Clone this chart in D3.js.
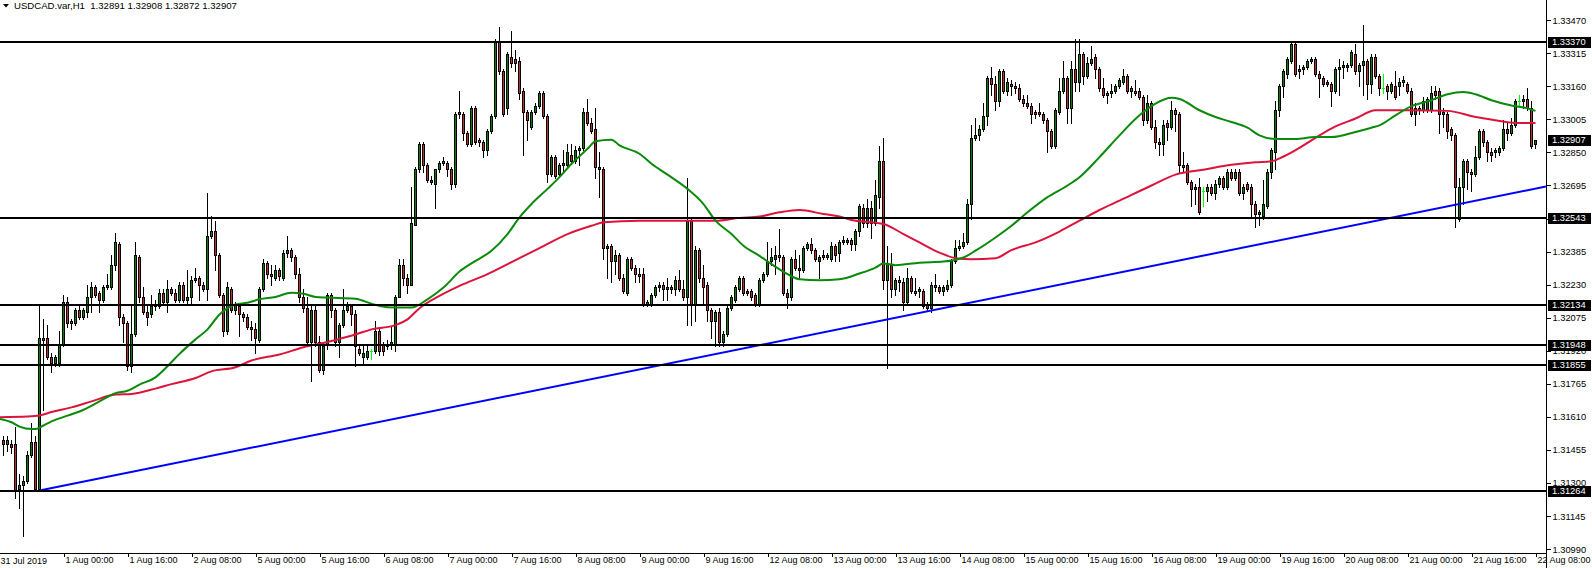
<!DOCTYPE html>
<html><head><meta charset="utf-8">
<script src="https://cdn.jsdelivr.net/npm/d3@7"></script>
<style>
body{margin:0;background:#fff;}
svg{display:block;font-family:"Liberation Sans",Arial,sans-serif;}
</style>
</head><body>
<svg id="chart" width="1592" height="568"></svg>
<script>
// ---------- DATA (USDCAD H1) ----------
const symbolTitle = "USDCAD.var,H1  1.32891 1.32908 1.32872 1.32907";
const opens = [
1.3150,1.3148,1.3148,1.3148,1.3127,1.3129,1.3131,1.3143,1.3149,1.3127,
1.3198,1.3198,1.3189,1.3186,1.3186,1.3195,1.3215,1.3206,1.3205,1.3211,
1.3208,1.3210,1.3217,1.3222,1.3219,1.3216,1.3222,1.3222,1.3232,1.3242,
1.3208,1.3205,1.3185,1.3200,1.3236,1.3217,1.3210,1.3209,1.3213,1.3213,
1.3219,1.3215,1.3221,1.3219,1.3216,1.3223,1.3216,1.3217,1.3225,1.3226,
1.3223,1.3221,1.3246,1.3248,1.3237,1.3218,1.3201,1.3221,1.3211,1.3213,
1.3209,1.3208,1.3203,1.3202,1.3197,1.3221,1.3233,1.3228,1.3226,1.3230,
1.3226,1.3238,1.3239,1.3236,1.3228,1.3217,1.3212,1.3196,1.3211,1.3196,
1.3183,1.3195,1.3218,1.3211,1.3196,1.3204,1.3211,1.3213,1.3209,1.3193,
1.3189,1.3189,1.3192,1.3192,1.3201,1.3195,1.3194,1.3195,1.3195,1.3217,
1.3232,1.3226,1.3223,1.3251,1.3277,1.3289,1.3279,1.3272,1.3270,1.3277,
1.3280,1.3280,1.3277,1.3270,1.3304,1.3303,1.3294,1.3289,1.3306,1.3291,
1.3290,1.3286,1.3295,1.3302,1.3337,1.3323,1.3306,1.3330,1.3329,1.3328,
1.3314,1.3304,1.3297,1.3304,1.3307,1.3313,1.3302,1.3275,1.3283,1.3275,
1.3279,1.3279,1.3284,1.3281,1.3286,1.3287,1.3304,1.3299,1.3296,1.3278,
1.3277,1.3240,1.3241,1.3234,1.3237,1.3226,1.3219,1.3235,1.3231,1.3228,
1.3228,1.3215,1.3214,1.3218,1.3222,1.3223,1.3221,1.3222,1.3221,1.3225,
1.3221,1.3217,1.3253,1.3214,1.3239,1.3226,1.3223,1.3211,1.3206,1.3210,
1.3196,1.3200,1.3212,1.3216,1.3221,1.3226,1.3220,1.3220,1.3218,1.3214,
1.3225,1.3228,1.3234,1.3235,1.3237,1.3236,1.3219,1.3217,1.3235,1.3231,
1.3230,1.3240,1.3242,1.3239,1.3234,1.3236,1.3237,1.3235,1.3241,1.3238,
1.3243,1.3243,1.3244,1.3242,1.3248,1.3259,1.3252,1.3259,1.3252,1.3264,
1.3281,1.3225,1.3232,1.3221,1.3225,1.3224,1.3215,1.3226,1.3220,1.3220,
1.3220,1.3214,1.3212,1.3223,1.3222,1.3220,1.3221,1.3223,1.3234,1.3240,
1.3241,1.3243,1.3261,1.3292,1.3293,1.3296,1.3302,1.3320,1.3317,1.3309,
1.3323,1.3314,1.3317,1.3316,1.3315,1.3310,1.3308,1.3307,1.3304,1.3304,
1.3303,1.3300,1.3295,1.3288,1.3304,1.3314,1.3320,1.3306,1.3324,1.3318,
1.3331,1.3321,1.3327,1.3330,1.3324,1.3315,1.3313,1.3313,1.3314,1.3316,
1.3318,1.3321,1.3315,1.3314,1.3314,1.3311,1.3300,1.3308,1.3297,1.3290,
1.3289,1.3299,1.3297,1.3305,1.3303,1.3279,1.3279,1.3271,1.3268,1.3269,
1.3267,1.3267,1.3269,1.3266,1.3270,1.3273,1.3269,1.3276,1.3273,1.3276,
1.3266,1.3270,1.3269,1.3261,1.3256,1.3255,1.3260,1.3276,1.3285,1.3305,
1.3316,1.3322,1.3328,1.3336,1.3324,1.3324,1.3325,1.3328,1.3329,1.3322,
1.3320,1.3318,1.3317,1.3314,1.3324,1.3325,1.3325,1.3326,1.3331,1.3323,
1.3326,1.3328,1.3317,1.3330,1.3321,1.3315,1.3316,1.3314,1.3316,1.3316,
1.3318,1.3317,1.3314,1.3303,1.3306,1.3305,1.3305,1.3305,1.3314,1.3314,
1.3304,1.3303,1.3296,1.3293,1.3254,1.3269,1.3281,1.3276,1.3275,1.3283,
1.3295,1.3290,1.3285,1.3285,1.3285,1.3287,1.3296,1.3294,1.3298,1.3309,
1.3310,1.3310,1.3306,1.32891];
const highs = [
1.3152,1.3152,1.3150,1.3156,1.3134,1.3133,1.3145,1.3158,1.3152,1.3214,
1.3207,1.3204,1.3191,1.3190,1.3201,1.3218,1.3217,1.3207,1.3212,1.3213,
1.3212,1.3223,1.3224,1.3223,1.3220,1.3223,1.3228,1.3237,1.3247,1.3243,
1.3209,1.3206,1.3214,1.3243,1.3237,1.3222,1.3213,1.3218,1.3216,1.3221,
1.3221,1.3225,1.3222,1.3221,1.3224,1.3224,1.3230,1.3227,1.3231,1.3227,
1.3224,1.3266,1.3255,1.3253,1.3238,1.3219,1.3224,1.3222,1.3215,1.3214,
1.3210,1.3209,1.3206,1.3205,1.3222,1.3235,1.3234,1.3232,1.3232,1.3231,
1.3239,1.3246,1.3240,1.3237,1.3231,1.3221,1.3217,1.3214,1.3213,1.3199,
1.3196,1.3219,1.3219,1.3212,1.3205,1.3221,1.3215,1.3214,1.3211,1.3194,
1.3194,1.3194,1.3193,1.3206,1.3203,1.3196,1.3197,1.3203,1.3218,1.3235,
1.3235,1.3228,1.3269,1.3278,1.3290,1.3290,1.3280,1.3274,1.3277,1.3281,
1.3283,1.3281,1.3278,1.3304,1.3314,1.3304,1.3295,1.3307,1.3307,1.3292,
1.3291,1.3296,1.3303,1.3338,1.3344,1.3324,1.3332,1.3342,1.3333,1.3330,
1.3315,1.3305,1.3305,1.3308,1.3314,1.3314,1.3303,1.3284,1.3284,1.3280,
1.3286,1.3289,1.3289,1.3288,1.3288,1.3306,1.3310,1.3301,1.3306,1.3285,
1.3278,1.3242,1.3242,1.3239,1.3238,1.3228,1.3236,1.3236,1.3232,1.3231,
1.3231,1.3216,1.3219,1.3223,1.3224,1.3224,1.3226,1.3223,1.3227,1.3230,
1.3225,1.3273,1.3254,1.3241,1.3240,1.3232,1.3224,1.3212,1.3211,1.3212,
1.3201,1.3214,1.3218,1.3223,1.3227,1.3227,1.3221,1.3221,1.3219,1.3226,
1.3229,1.3243,1.3240,1.3241,1.3249,1.3237,1.3221,1.3236,1.3239,1.3237,
1.3241,1.3243,1.3245,1.3240,1.3237,1.3239,1.3238,1.3243,1.3242,1.3244,
1.3246,1.3245,1.3245,1.3249,1.3261,1.3261,1.3263,1.3262,1.3272,1.3288,
1.3292,1.3241,1.3238,1.3226,1.3227,1.3226,1.3231,1.3227,1.3226,1.3222,
1.3221,1.3215,1.3224,1.3228,1.3223,1.3223,1.3225,1.3235,1.3244,1.3244,
1.3247,1.3263,1.3298,1.3301,1.3298,1.3308,1.3321,1.3325,1.3321,1.3324,
1.3324,1.3320,1.3319,1.3318,1.3317,1.3312,1.3312,1.3308,1.3305,1.3308,
1.3304,1.3301,1.3296,1.3306,1.3320,1.3328,1.3321,1.3328,1.3338,1.3338,
1.3332,1.3330,1.3335,1.3331,1.3325,1.3320,1.3314,1.3317,1.3317,1.3320,
1.3324,1.3322,1.3316,1.3319,1.3315,1.3312,1.3312,1.3309,1.3300,1.3292,
1.3300,1.3300,1.3309,1.3306,1.3304,1.3285,1.3280,1.3272,1.3270,1.3273,
1.3269,1.3270,1.3270,1.3272,1.3274,1.3274,1.3277,1.3277,1.3277,1.3277,
1.3270,1.3271,1.3270,1.3262,1.3258,1.3272,1.3277,1.3287,1.3309,1.3317,
1.3324,1.3330,1.3337,1.3337,1.3326,1.3326,1.3329,1.3330,1.3330,1.3323,
1.3321,1.3319,1.3318,1.3325,1.3329,1.3328,1.3327,1.3333,1.3336,1.3327,
1.3345,1.3329,1.3331,1.3331,1.3322,1.3322,1.3317,1.3318,1.3323,1.3320,
1.3321,1.3318,1.3315,1.3308,1.3307,1.3311,1.3311,1.3316,1.3316,1.3315,
1.3306,1.3304,1.3297,1.3294,1.3273,1.3282,1.3282,1.3277,1.3288,1.3296,
1.3296,1.3291,1.3287,1.3287,1.3288,1.3300,1.3299,1.3301,1.3310,1.3312,
1.3312,1.3315,1.3309,1.32908];
const lows = [
1.3143,1.3145,1.3144,1.3123,1.3118,1.3105,1.3130,1.3142,1.3126,1.3126,
1.3164,1.3188,1.3182,1.3185,1.3185,1.3194,1.3203,1.3202,1.3204,1.3207,
1.3207,1.3208,1.3210,1.3217,1.3210,1.3215,1.3221,1.3221,1.3230,1.3204,
1.3196,1.3183,1.3182,1.3199,1.3215,1.3209,1.3204,1.3208,1.3211,1.3212,
1.3214,1.3210,1.3218,1.3215,1.3215,1.3215,1.3214,1.3214,1.3224,1.3216,
1.3220,1.3216,1.3245,1.3230,1.3217,1.3199,1.3200,1.3210,1.3209,1.3199,
1.3206,1.3202,1.3197,1.3191,1.3196,1.3220,1.3226,1.3223,1.3225,1.3225,
1.3225,1.3236,1.3234,1.3226,1.3215,1.3210,1.3195,1.3178,1.3194,1.3182,
1.3181,1.3193,1.3208,1.3194,1.3189,1.3203,1.3210,1.3204,1.3185,1.3190,
1.3186,1.3188,1.3188,1.3191,1.3190,1.3190,1.3193,1.3193,1.3192,1.3217,
1.3223,1.3219,1.3223,1.3251,1.3276,1.3276,1.3271,1.3270,1.3259,1.3276,
1.3279,1.3274,1.3268,1.3269,1.3301,1.3291,1.3288,1.3288,1.3289,1.3288,
1.3283,1.3284,1.3294,1.3301,1.3322,1.3302,1.3303,1.3325,1.3323,1.3310,
1.3284,1.3291,1.3296,1.3303,1.3306,1.3301,1.3271,1.3274,1.3273,1.3274,
1.3276,1.3278,1.3280,1.3280,1.3279,1.3286,1.3298,1.3294,1.3273,1.3264,
1.3235,1.3226,1.3224,1.3228,1.3225,1.3219,1.3218,1.3230,1.3224,1.3224,
1.3213,1.3213,1.3213,1.3217,1.3220,1.3216,1.3216,1.3219,1.3218,1.3220,
1.3216,1.3204,1.3204,1.3206,1.3224,1.3214,1.3206,1.3198,1.3194,1.3194,
1.3194,1.3199,1.3211,1.3215,1.3220,1.3218,1.3218,1.3216,1.3213,1.3213,
1.3224,1.3227,1.3232,1.3228,1.3234,1.3218,1.3212,1.3216,1.3230,1.3226,
1.3229,1.3239,1.3238,1.3234,1.3226,1.3235,1.3235,1.3234,1.3234,1.3234,
1.3242,1.3242,1.3239,1.3239,1.3246,1.3250,1.3250,1.3245,1.3251,1.3259,
1.3221,1.3184,1.3217,1.3218,1.3220,1.3211,1.3214,1.3219,1.3218,1.3217,
1.3212,1.3211,1.3210,1.3220,1.3219,1.3218,1.3220,1.3222,1.3233,1.3239,
1.3240,1.3242,1.3254,1.3291,1.3291,1.3295,1.3298,1.3312,1.3305,1.3307,
1.3313,1.3312,1.3312,1.3313,1.3309,1.3307,1.3306,1.3299,1.3301,1.3302,
1.3299,1.3285,1.3287,1.3287,1.3303,1.3313,1.3299,1.3299,1.3314,1.3314,
1.3317,1.3320,1.3326,1.3320,1.3314,1.3311,1.3308,1.3311,1.3313,1.3315,
1.3317,1.3313,1.3311,1.3312,1.3310,1.3298,1.3299,1.3296,1.3287,1.3284,
1.3284,1.3291,1.3296,1.3295,1.3276,1.3276,1.3270,1.3260,1.3261,1.3256,
1.3260,1.3262,1.3265,1.3263,1.3269,1.3268,1.3268,1.3272,1.3272,1.3265,
1.3263,1.3267,1.3255,1.3250,1.3251,1.3254,1.3259,1.3273,1.3277,1.3302,
1.3311,1.3320,1.3327,1.3321,1.3320,1.3322,1.3324,1.3327,1.3321,1.3311,
1.3316,1.3316,1.3307,1.3313,1.3312,1.3320,1.3323,1.3325,1.3322,1.3316,
1.3312,1.3310,1.3313,1.3320,1.3312,1.3313,1.3310,1.3313,1.3310,1.3312,
1.3316,1.3313,1.3302,1.3298,1.3303,1.3304,1.3304,1.3304,1.3310,1.3294,
1.3297,1.3292,1.3291,1.3250,1.3253,1.3261,1.3268,1.3267,1.3274,1.3282,
1.3288,1.3281,1.3281,1.3283,1.3284,1.3286,1.3291,1.3293,1.3297,1.3307,
1.3306,1.3305,1.3287,1.32872];
const closes = [
1.3148,1.3150,1.3147,1.3126,1.3129,1.3131,1.3143,1.3149,1.3127,1.3198,
1.3197,1.3189,1.3186,1.3189,1.3195,1.3215,1.3205,1.3205,1.3211,1.3208,
1.3211,1.3217,1.3222,1.3218,1.3216,1.3222,1.3223,1.3232,1.3243,1.3208,
1.3205,1.3185,1.3200,1.3237,1.3217,1.3210,1.3208,1.3213,1.3214,1.3219,
1.3215,1.3221,1.3219,1.3216,1.3223,1.3216,1.3217,1.3225,1.3226,1.3223,
1.3221,1.3246,1.3248,1.3237,1.3218,1.3201,1.3222,1.3211,1.3214,1.3209,
1.3208,1.3203,1.3202,1.3198,1.3221,1.3233,1.3228,1.3227,1.3230,1.3227,
1.3238,1.3239,1.3236,1.3228,1.3217,1.3212,1.3196,1.3211,1.3196,1.3183,
1.3194,1.3218,1.3211,1.3196,1.3204,1.3211,1.3213,1.3209,1.3194,1.3191,
1.3191,1.3192,1.3192,1.3201,1.3192,1.3192,1.3195,1.3196,1.3217,1.3232,
1.3226,1.3223,1.3252,1.3277,1.3289,1.3279,1.3272,1.3271,1.3277,1.3280,
1.3281,1.3277,1.3270,1.3303,1.3303,1.3294,1.3289,1.3306,1.3290,1.3290,
1.3286,1.3295,1.3302,1.3337,1.3323,1.3303,1.3331,1.3327,1.3327,1.3313,
1.3304,1.3300,1.3304,1.3307,1.3313,1.3302,1.3275,1.3283,1.3274,1.3279,
1.3280,1.3285,1.3281,1.3286,1.3287,1.3304,1.3299,1.3295,1.3278,1.3277,
1.3240,1.3241,1.3234,1.3237,1.3226,1.3220,1.3235,1.3231,1.3228,1.3227,
1.3214,1.3214,1.3218,1.3222,1.3223,1.3221,1.3222,1.3221,1.3225,1.3221,
1.3217,1.3253,1.3214,1.3239,1.3226,1.3222,1.3211,1.3206,1.3210,1.3196,
1.3200,1.3212,1.3217,1.3222,1.3226,1.3219,1.3219,1.3217,1.3214,1.3225,
1.3228,1.3234,1.3236,1.3237,1.3236,1.3219,1.3217,1.3235,1.3231,1.3230,
1.3240,1.3242,1.3239,1.3235,1.3236,1.3237,1.3236,1.3241,1.3237,1.3243,
1.3244,1.3244,1.3242,1.3248,1.3260,1.3252,1.3259,1.3252,1.3265,1.3281,
1.3225,1.3233,1.3221,1.3225,1.3224,1.3215,1.3226,1.3220,1.3219,1.3221,
1.3213,1.3212,1.3223,1.3222,1.3220,1.3222,1.3223,1.3234,1.3240,1.3241,
1.3243,1.3261,1.3292,1.3293,1.3296,1.3302,1.3320,1.3317,1.3309,1.3323,
1.3314,1.3318,1.3316,1.3315,1.3310,1.3308,1.3307,1.3303,1.3303,1.3303,
1.3300,1.3295,1.3288,1.3305,1.3314,1.3320,1.3306,1.3324,1.3318,1.3331,
1.3321,1.3327,1.3329,1.3324,1.3315,1.3312,1.3312,1.3314,1.3316,1.3319,
1.3321,1.3314,1.3314,1.3313,1.3311,1.3300,1.3308,1.3297,1.3290,1.3289,
1.3298,1.3297,1.3305,1.3303,1.3279,1.3278,1.3271,1.3268,1.3269,1.3257,
1.3267,1.3269,1.3266,1.3270,1.3273,1.3269,1.3276,1.3273,1.3276,1.3266,
1.3269,1.3268,1.3261,1.3256,1.3257,1.3261,1.3276,1.3286,1.3305,1.3316,
1.3323,1.3329,1.3336,1.3322,1.3323,1.3325,1.3328,1.3329,1.3322,1.3320,
1.3317,1.3317,1.3314,1.3324,1.3325,1.3326,1.3326,1.3332,1.3323,1.3326,
1.3328,1.3317,1.3330,1.3321,1.3315,1.3315,1.3314,1.3317,1.3311,1.3318,
1.3319,1.3314,1.3303,1.3306,1.3305,1.3309,1.3310,1.3313,1.3312,1.3303,
1.3303,1.3295,1.3293,1.3269,1.3269,1.3281,1.3276,1.3275,1.3283,1.3295,
1.3290,1.3285,1.3284,1.3286,1.3287,1.3296,1.3294,1.3298,1.3309,1.3309,
1.3309,1.3306,1.3288,1.32907];

// Moving averages (bar index, value)
const maGreenIdx = [-1,2,4,7,8,10,12,16,20,24,28,31,34,38,41,44,48,51,54,58,61,64,68,72,75,78,81,88,92,94,98,102,106,110,114,118,122,126,129,132,136,139,142,146,148,152,154,159,162,166,171,175,178,182,185,189,192,196,199,204,209,214,218,220,223,229,235,240,243,248,252,256,261,266,269,274,279,284,288,292,294,299,303,307,311,314,318,323,328,332,338,342,344,348,352,357,361,365,368,372,377,380,383];
const maGreenVal = [1.31600,1.31584,1.31564,1.31552,1.31552,1.31569,1.31588,1.31615,1.31643,1.31682,1.31721,1.31732,1.31761,1.31795,1.31847,1.31905,1.31973,1.32020,1.32090,1.32137,1.32145,1.32161,1.32172,1.32192,1.32187,1.32172,1.32169,1.32164,1.32140,1.32130,1.32122,1.32122,1.32161,1.32216,1.32291,1.32341,1.32389,1.32467,1.32545,1.32608,1.32679,1.32734,1.32797,1.32867,1.32903,1.32910,1.32883,1.32844,1.32797,1.32746,1.32679,1.32608,1.32530,1.32467,1.32412,1.32365,1.32326,1.32279,1.32255,1.32250,1.32255,1.32282,1.32310,1.32329,1.32321,1.32333,1.32338,1.32357,1.32389,1.32451,1.32506,1.32569,1.32640,1.32695,1.32734,1.32828,1.32930,1.33024,1.33079,1.33106,1.33101,1.33048,1.33016,1.32993,1.32966,1.32930,1.32913,1.32913,1.32922,1.32922,1.32946,1.32966,1.32977,1.33024,1.33067,1.33095,1.33123,1.33134,1.33123,1.33095,1.33070,1.33061,1.33045];
const maRedIdx = [-1,6,9,12,17,22,28,32,38,42,48,52,58,62,69,75,81,88,92,98,101,104,109,114,121,128,134,141,147,150,159,168,178,184,189,194,199,205,209,212,220,225,229,234,238,242,248,252,258,264,269,274,279,287,293,300,307,313,317,320,325,329,333,338,343,351,361,368,373,378,383];
const maRedVal = [1.31608,1.31611,1.31616,1.31632,1.31654,1.31682,1.31714,1.31717,1.31742,1.31763,1.31792,1.31823,1.31842,1.31874,1.31902,1.31936,1.31961,1.31996,1.32020,1.32040,1.32067,1.32119,1.32177,1.32224,1.32279,1.32345,1.32401,1.32467,1.32506,1.32522,1.32530,1.32530,1.32530,1.32543,1.32549,1.32569,1.32580,1.32561,1.32549,1.32533,1.32514,1.32467,1.32428,1.32380,1.32354,1.32349,1.32354,1.32392,1.32428,1.32479,1.32530,1.32580,1.32624,1.32695,1.32746,1.32769,1.32792,1.32804,1.32809,1.32831,1.32883,1.32930,1.32972,1.33009,1.33048,1.33048,1.33045,1.33016,1.33001,1.32988,1.32988];

// Horizontal levels and trend line
const levels = [1.33370, 1.32543, 1.32134, 1.31948, 1.31855, 1.31264];
const trendStart = [9, 1.31264];
const trendEnd = [383, 1.32680];
const lastPrice = 1.32907;

// Axis tick labels
const priceTicks = [1.33470,1.33315,1.33160,1.33005,1.32850,1.32695,1.32540,1.32385,1.32230,1.32075,1.31920,1.31765,1.31610,1.31455,1.31300,1.31145,1.30990];
const firstTimeLabel = "31 Jul 2019";
const timeLabels = ["1 Aug 00:00","1 Aug 16:00","2 Aug 08:00","5 Aug 00:00","5 Aug 16:00","6 Aug 08:00","7 Aug 00:00","7 Aug 16:00","8 Aug 08:00","9 Aug 00:00","9 Aug 16:00","12 Aug 08:00","13 Aug 00:00","13 Aug 16:00","14 Aug 08:00","15 Aug 00:00","15 Aug 16:00","16 Aug 08:00","19 Aug 00:00","19 Aug 16:00","20 Aug 08:00","21 Aug 00:00","21 Aug 16:00","22 Aug 08:00"];
const timeLabelIdx = [15,31,47,63,79,95,111,127,143,159,175,191,207,223,239,255,271,287,303,319,335,351,367,383];

// ---------- DRAWING ----------
const svg = d3.select("#chart");
const plotRight = 1546, plotBottom = 553;
const FONT = 9.3, XFONT = 9;
const bullColor = "#0b7d0b", bearColor = "#b8312f", dojiColor = "#00ff00";

const N = opens.length;
const x = d3.scaleLinear().domain([0, N - 1]).range([3, 3 + 4 * (N - 1)]);
const y = d3.scaleLinear().domain([1.31264, 1.33370]).range([490.5, 41.6]);

svg.append("rect").attr("width",1592).attr("height",568).attr("fill","#fff");

svg.append("defs").append("clipPath").attr("id","plotClip")
  .append("rect").attr("x",0).attr("y",0).attr("width",plotRight).attr("height",plotBottom);
const plot = svg.append("g").attr("clip-path","url(#plotClip)");

// candles
const cg = plot.append("g").attr("shape-rendering","crispEdges");
const bars = d3.range(N).map(i => ({i, o: opens[i], h: highs[i], l: lows[i], c: closes[i]}));
bars.forEach(b => {
  const cx = Math.round(x(b.i));
  const hi = Math.max(b.h, b.o, b.c), lo = Math.min(b.l, b.o, b.c);
  const yH = Math.round(y(hi)), yL = Math.round(y(lo));
  const doji = b.o === b.c;
  cg.append("line").attr("x1", cx + 0.5).attr("x2", cx + 0.5)
    .attr("y1", yH).attr("y2", yL + 1)
    .attr("stroke", doji ? dojiColor : "#000").attr("stroke-width", 1);
  if (doji) {
    const yo = Math.round(y(b.o));
    cg.append("line").attr("x1", cx - 1).attr("x2", cx + 2)
      .attr("y1", yo + 0.5).attr("y2", yo + 0.5)
      .attr("stroke", dojiColor).attr("stroke-width", 1);
  } else {
    const yT = Math.round(y(Math.max(b.o, b.c))), yB = Math.round(y(Math.min(b.o, b.c)));
    cg.append("rect").attr("x", cx - 0.5).attr("y", yT + 0.5)
      .attr("width", 2).attr("height", Math.max(yB - yT, 1))
      .attr("fill", b.c > b.o ? bullColor : bearColor)
      .attr("stroke", "#000").attr("stroke-width", 1);
  }
});

// moving averages
const maLine = d3.line().x(d => x(d[0]) + 0.5).y(d => y(d[1])).curve(d3.curveMonotoneX);
plot.append("path").datum(d3.zip(maRedIdx, maRedVal)).attr("d", maLine)
  .attr("fill","none").attr("stroke","#dc143c").attr("stroke-width",2);
plot.append("path").datum(d3.zip(maGreenIdx, maGreenVal)).attr("d", maLine)
  .attr("fill","none").attr("stroke","#0a8a0a").attr("stroke-width",2);

// trend line (ray to right edge)
const slope = (trendEnd[1] - trendStart[1]) / (trendEnd[0] - trendStart[0]);
const rightIdx = x.invert(plotRight);
plot.append("line")
  .attr("x1", x(trendStart[0]) + 0.5).attr("y1", y(trendStart[1]))
  .attr("x2", plotRight).attr("y2", y(trendStart[1] + slope * (rightIdx - trendStart[0])))
  .attr("stroke","#0000ff").attr("stroke-width",2);

// horizontal levels
plot.append("g").attr("shape-rendering","crispEdges").selectAll("line").data(levels).join("line")
  .attr("x1",0).attr("x2",plotRight)
  .attr("y1", d => Math.round(y(d))).attr("y2", d => Math.round(y(d)))
  .attr("stroke","#000").attr("stroke-width",2);

// right price axis
const yAxis = d3.axisRight(y).tickValues(priceTicks).tickFormat(d3.format(".5f"))
  .tickSize(4).tickSizeOuter(0).tickPadding(2);
const ya = svg.append("g").attr("transform", `translate(${plotRight + 0.5},0)`).call(yAxis);
ya.select(".domain").remove();
ya.selectAll(".tick line").attr("stroke","#000").attr("shape-rendering","crispEdges");
ya.selectAll(".tick text").attr("font-size", FONT).attr("font-family","Liberation Sans, Arial, sans-serif")
  .attr("fill","#000").attr("dy","0.34em");
svg.append("line").attr("x1",plotRight+0.5).attr("x2",plotRight+0.5).attr("y1",0).attr("y2",568)
  .attr("stroke","#000").attr("shape-rendering","crispEdges");

// level boxes + current price box
const boxVals = levels.concat([lastPrice]);
const bg = svg.append("g");
boxVals.forEach(v => {
  const yy = Math.round(y(v));
  bg.append("rect").attr("x", plotRight + 2).attr("y", yy - 5.5).attr("width", 43).attr("height", 11)
    .attr("fill","#000").attr("shape-rendering","crispEdges");
  bg.append("text").attr("x", plotRight + 6).attr("y", yy + 3.4)
    .attr("font-size", FONT).attr("fill","#fff").text(d3.format(".5f")(v));
});

// bottom time axis
const xAxis = d3.axisBottom(x).tickValues(timeLabelIdx).tickFormat((d,i) => timeLabels[i])
  .tickSize(4).tickSizeOuter(0);
const xa = svg.append("g").attr("transform", `translate(0.5,${plotBottom})`).call(xAxis);
xa.select(".domain").remove();
xa.selectAll(".tick line").attr("stroke","#000").attr("shape-rendering","crispEdges");
xa.selectAll(".tick text").attr("font-size", XFONT).attr("fill","#000")
  .attr("font-family","Liberation Sans, Arial, sans-serif")
  .attr("text-anchor","start").attr("x", 1.5).attr("y", 3.5).attr("dy","0.71em");
svg.append("line").attr("x1",0).attr("x2",plotRight+1).attr("y1",plotBottom+0.5).attr("y2",plotBottom+0.5)
  .attr("stroke","#000").attr("shape-rendering","crispEdges");
svg.append("text").attr("x",0.5).attr("y",plotBottom + 10.9).attr("font-size",XFONT).attr("fill","#000")
  .text(firstTimeLabel);

// title
svg.append("path").attr("d","M3,4 L9,4 L6,7.5 Z").attr("fill","#000");
svg.append("text").attr("x",14).attr("y",9).attr("font-size",9.6).attr("fill","#000")
  .style("white-space","pre").text(symbolTitle);
</script>
</body></html>
